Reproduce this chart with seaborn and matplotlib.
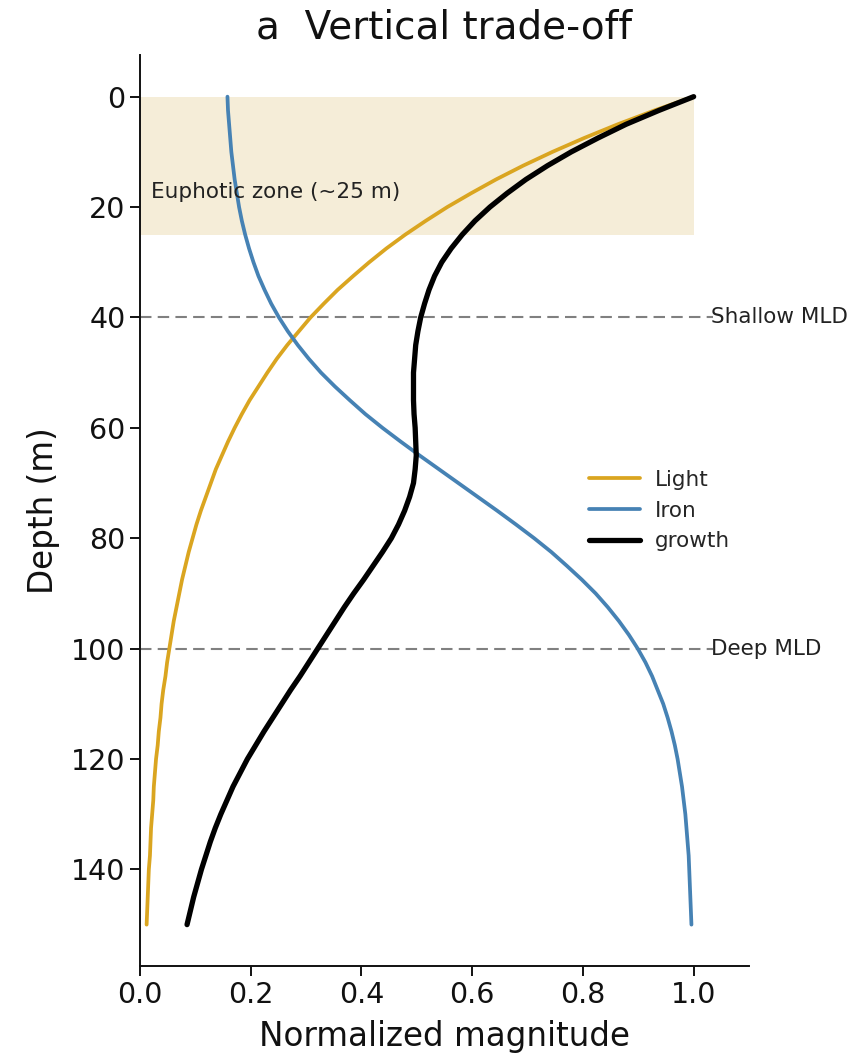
import matplotlib
matplotlib.use("Agg")
import matplotlib.pyplot as plt
import seaborn as sns

# Depth profile (m), sampled every 2.5 m
depth = [0, 2.5, 5, 7.5, 10, 12.5, 15, 17.5, 20, 22.5, 25, 27.5, 30, 32.5,
         35, 37.5, 40, 42.5, 45, 47.5, 50, 52.5, 55, 57.5, 60, 62.5, 65, 67.5,
         70, 72.5, 75, 77.5, 80, 82.5, 85, 87.5, 90, 92.5, 95, 97.5, 100,
         102.5, 105, 107.5, 110, 112.5, 115, 117.5, 120, 122.5, 125, 127.5,
         130, 132.5, 135, 137.5, 140, 142.5, 145, 147.5, 150]

# Normalized magnitudes at each depth
light = [1.000, 0.929, 0.863, 0.802, 0.745, 0.692, 0.643, 0.598, 0.555, 0.516,
         0.479, 0.445, 0.414, 0.385, 0.357, 0.332, 0.308, 0.287, 0.266, 0.247,
         0.230, 0.214, 0.198, 0.184, 0.171, 0.159, 0.148, 0.137, 0.128, 0.119,
         0.110, 0.102, 0.095, 0.088, 0.082, 0.076, 0.071, 0.066, 0.061, 0.057,
         0.053, 0.049, 0.046, 0.042, 0.039, 0.037, 0.034, 0.032, 0.029, 0.027,
         0.025, 0.024, 0.022, 0.020, 0.019, 0.018, 0.016, 0.015, 0.014, 0.013,
         0.012]
iron = [0.158, 0.159, 0.161, 0.163, 0.165, 0.168, 0.171, 0.175, 0.179, 0.184,
        0.190, 0.197, 0.205, 0.214, 0.225, 0.237, 0.251, 0.267, 0.285, 0.305,
        0.327, 0.352, 0.379, 0.407, 0.438, 0.471, 0.505, 0.540, 0.575, 0.610,
        0.645, 0.679, 0.712, 0.743, 0.771, 0.798, 0.823, 0.845, 0.865, 0.883,
        0.899, 0.913, 0.925, 0.935, 0.945, 0.953, 0.960, 0.966, 0.971, 0.975,
        0.979, 0.982, 0.985, 0.987, 0.989, 0.991, 0.992, 0.993, 0.994, 0.995,
        0.996]
growth = [1.000, 0.937, 0.878, 0.827, 0.779, 0.736, 0.697, 0.663, 0.632, 0.605,
          0.582, 0.562, 0.545, 0.532, 0.522, 0.514, 0.507, 0.502, 0.498, 0.496,
          0.494, 0.494, 0.494, 0.495, 0.497, 0.498, 0.499, 0.497, 0.494, 0.487,
          0.478, 0.467, 0.454, 0.438, 0.421, 0.404, 0.386, 0.369, 0.353, 0.337,
          0.321, 0.305, 0.289, 0.272, 0.256, 0.240, 0.224, 0.209, 0.194, 0.181,
          0.168, 0.157, 0.146, 0.136, 0.127, 0.119, 0.111, 0.104, 0.097, 0.091,
          0.085]

euphotic_depth = 25
mld_depths = [40, 100]
mld_labels = ["Shallow MLD", "Deep MLD"]

sns.set_theme(style="ticks")
plt.rcParams["font.family"] = ["DejaVu Sans"]

ink = "#111111"

fig = plt.figure(figsize=(8.53, 10.59), dpi=100)
ax = fig.add_axes([0.1641, 0.0878, 0.714, 0.860])

# Euphotic zone band
ax.fill_between([0, 1], 0, euphotic_depth, color="#F5EDD8", lw=0, zorder=0)
ax.text(0.02, 17.2, "Euphotic zone (~25 m)", fontsize=15.5, va="center",
        color="#222222")

# Mixed-layer depth markers
for d, lab in zip(mld_depths, mld_labels):
    ax.hlines(d, 0, 1.035, colors="#808080", linestyles=(0, (5.5, 3)), lw=1.5,
              zorder=1)
    ax.text(1.032, d, lab, fontsize=15.5, va="center", color="#222222")

sns.lineplot(x=light, y=depth, orient="y", color="#DAA520", lw=2.7,
             label="Light", ax=ax)
sns.lineplot(x=iron, y=depth, orient="y", color="#4682B4", lw=2.7,
             label="Iron", ax=ax)
sns.lineplot(x=growth, y=depth, orient="y", color="black", lw=3.8,
             label="growth", ax=ax)

ax.set_xlim(0, 1.1)
ax.set_ylim(157.5, -7.5)
ax.set_xticks([0.0, 0.2, 0.4, 0.6, 0.8, 1.0])
ax.set_yticks([0, 20, 40, 60, 80, 100, 120, 140])
ax.tick_params(labelsize=20.5, length=7, width=1.4, colors=ink)
for s in ("left", "bottom"):
    ax.spines[s].set_linewidth(1.4)
    ax.spines[s].set_color(ink)
sns.despine(ax=ax)

ax.set_xlabel("Normalized magnitude", fontsize=23.5, labelpad=8, color=ink)
ax.set_ylabel("Depth (m)", fontsize=23.5, labelpad=8, color=ink)
ax.set_title("a  Vertical trade-off", fontsize=28, pad=12, color=ink)

ax.legend(frameon=False, fontsize=15.5, loc="upper left",
          bbox_to_anchor=(0.705, 0.566), handlelength=2.4, handletextpad=0.65)

fig.savefig("out.png", dpi=100)
